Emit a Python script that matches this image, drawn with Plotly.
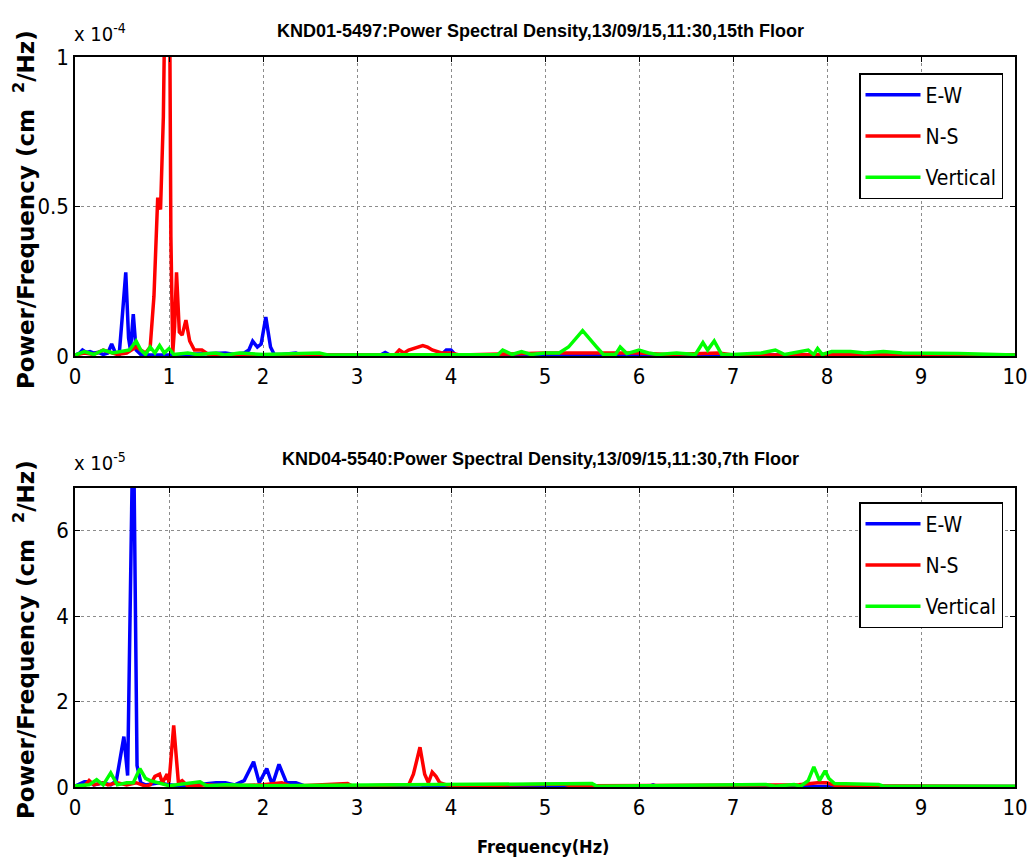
import plotly.graph_objects as go

# ---------------- data (top panel, values x 1e-4) ----------------
top_ew_f = [0, 0.05, 0.08, 0.12, 0.16, 0.2, 0.25, 0.3, 0.35, 0.39, 0.43, 0.47, 0.5, 0.54, 0.57, 0.59, 0.62, 0.65, 0.7,
            0.8, 1.0, 1.2, 1.5, 1.6, 1.7, 1.8, 1.85, 1.89, 1.94, 1.98, 2.03, 2.08, 2.12, 2.2, 2.35, 2.4, 2.5,
            3.25, 3.3, 3.35, 3.9, 3.95, 4.0, 4.05, 5.0, 10.0]
top_ew_v = [0.003, 0.01, 0.02, 0.012, 0.015, 0.01, 0.012, 0.005, 0.01, 0.04, 0.01, 0.005, 0.12, 0.28, 0.06, 0.02, 0.14, 0.02, 0.005,
            0.003, 0.003, 0.005, 0.01, 0.01, 0.005, 0.01, 0.02, 0.05, 0.03, 0.04, 0.13, 0.03, 0.005, 0.005, 0.01, 0.003, 0.003,
            0.003, 0.012, 0.003, 0.005, 0.02, 0.02, 0.003, 0.003, 0.003]

top_ns_f = [0, 0.1, 0.2, 0.3, 0.45, 0.55, 0.65, 0.75, 0.8, 0.84, 0.88, 0.91, 0.94, 0.97, 1.0, 1.02, 1.04, 1.06, 1.08,
            1.11, 1.14, 1.18, 1.22, 1.27, 1.35, 1.42, 1.5, 3.4, 3.45, 3.5, 3.55, 3.6, 3.65, 3.7, 3.75, 3.8, 3.9, 4.0, 4.1,
            5.0, 5.5, 6.0, 6.3, 6.7, 6.85, 7.0, 8.0, 10.0]
top_ns_v = [0.003, 0.01, 0.005, 0.02, 0.005, 0.01, 0.03, 0.01, 0.03, 0.2, 0.53, 0.49, 0.8, 1.5, 1.6, 0.4, 0.01, 0.1, 0.28,
            0.08, 0.07, 0.12, 0.05, 0.02, 0.02, 0.005, 0.003, 0.003, 0.02, 0.01, 0.02, 0.025, 0.03, 0.035, 0.03, 0.02, 0.01, 0.01, 0.003,
            0.01, 0.01, 0.01, 0.005, 0.01, 0.01, 0.003, 0.005, 0.003]

top_v_f = [0, 0.1, 0.2, 0.3, 0.4, 0.5, 0.58, 0.65, 0.7, 0.75, 0.8, 0.85, 0.9, 0.95, 1.0, 1.05, 1.2, 1.3, 1.5, 1.6, 1.75,
           2.0, 2.6, 2.7, 4.5, 4.55, 4.65, 4.75, 4.85, 5.0, 5.15, 5.25, 5.4, 5.55, 5.62, 5.75, 5.8, 5.87, 6.0, 6.1, 6.2,
           6.4, 6.6, 6.68, 6.73, 6.8, 6.88, 7.0, 7.3, 7.45, 7.55, 7.8, 7.86, 7.9, 7.95, 8.05, 8.25, 8.4, 8.6, 8.8,
           9.2, 9.4, 10.0]
top_v_v = [0.003, 0.015, 0.005, 0.02, 0.01, 0.015, 0.02, 0.05, 0.02, 0.005, 0.03, 0.01, 0.035, 0.01, 0.025, 0.005, 0.01, 0.005, 0.01, 0.003, 0.01,
           0.005, 0.01, 0.003, 0.005, 0.02, 0.005, 0.015, 0.005, 0.01, 0.01, 0.03, 0.085, 0.03, 0.005, 0.005, 0.03, 0.008, 0.02, 0.01, 0.005,
           0.01, 0.005, 0.045, 0.02, 0.05, 0.005, 0.005, 0.01, 0.02, 0.005, 0.02, 0.005, 0.025, 0.005, 0.015, 0.015, 0.01, 0.015, 0.01,
           0.01, 0.008, 0.003]

# ---------------- data (bottom panel, values x 1e-5) ----------------
bot_ew_f = [0, 0.1, 0.15, 0.2, 0.3, 0.38, 0.44, 0.52, 0.56, 0.58, 0.62, 0.66, 0.7, 0.75, 0.9, 1.0, 1.1, 1.3, 1.5, 1.6,
            1.7, 1.8, 1.9, 1.96, 2.04, 2.1, 2.17, 2.25, 2.35, 2.45, 3.0, 3.65, 3.8, 6.1, 6.15, 6.2, 10.0]
bot_ew_v = [0.02, 0.12, 0.12, 0.05, 0.1, 0.05, 0.15, 1.18, 0.27, 3.0, 9.0, 0.5, 0.1, 0.05, 0.1, 0.05, 0.03, 0.05, 0.1, 0.1,
            0.05, 0.15, 0.59, 0.1, 0.43, 0.05, 0.53, 0.1, 0.1, 0.02, 0.01, 0.05, 0.02, 0.01, 0.05, 0.01, 0.01]

bot_ns_f = [0, 0.1, 0.15, 0.2, 0.3, 0.35, 0.45, 0.55, 0.65, 0.75, 0.8, 0.85, 0.9, 0.93, 0.98, 1.0, 1.05, 1.1, 1.14,
            1.2, 1.4, 1.6, 2.0, 2.2, 2.3, 2.9, 2.95, 3.3, 3.45, 3.55, 3.6, 3.67, 3.72, 3.76, 3.8, 3.84, 3.88, 3.95,
            4.05, 5.2, 5.3, 5.5, 7.4, 7.7, 7.9, 8.0, 8.1, 8.6, 10.0]
bot_ns_v = [0.02, 0.02, 0.15, 0.05, 0.1, 0.05, 0.1, 0.05, 0.1, 0.02, 0.05, 0.25, 0.3, 0.1, 0.3, 0.1, 1.44, 0.1, 0.15,
            0.02, 0.05, 0.02, 0.05, 0.1, 0.02, 0.08, 0.02, 0.05, 0.05, 0.05, 0.3, 0.93, 0.3, 0.1, 0.35, 0.25, 0.1, 0.05,
            0.02, 0.07, 0.01, 0.03, 0.04, 0.05, 0.1, 0.1, 0.03, 0.03, 0.01]

bot_v_f = [0, 0.15, 0.23, 0.3, 0.38, 0.45, 0.55, 0.62, 0.69, 0.75, 0.8, 0.9, 1.0, 1.33, 1.4, 1.6, 1.8, 2.0, 5.5, 5.55,
           7.35, 7.45, 7.65, 7.72, 7.8, 7.86, 7.92, 7.98, 8.02, 8.08, 8.55, 8.6, 10.0]
bot_v_v = [0.03, 0.05, 0.17, 0.05, 0.33, 0.05, 0.1, 0.1, 0.43, 0.2, 0.15, 0.1, 0.03, 0.12, 0.03, 0.05, 0.03, 0.03, 0.08, 0.02,
           0.06, 0.02, 0.06, 0.02, 0.15, 0.47, 0.15, 0.38, 0.2, 0.08, 0.06, 0.02, 0.02]

series_names = ["E-W", "N-S", "Vertical"]
series_colors = ["#0000ff", "#ff0000", "#00ff00"]
x_ticks = [0, 1, 2, 3, 4, 5, 6, 7, 8, 9, 10]
top_yticks = [0, 0.5, 1]
top_yticktext = ["0", "0.5", "1"]
bot_yticks = [0, 2, 4, 6]
bot_yticktext = ["0", "2", "4", "6"]

top_title = "KND01-5497:Power Spectral Density,13/09/15,11:30,15th Floor"
bot_title = "KND04-5540:Power Spectral Density,13/09/15,11:30,7th Floor"

NARROW = "DejaVu Sans Condensed, Liberation Sans Narrow, Liberation Sans, sans-serif"
SANS = "Liberation Sans, Arial, sans-serif"
WIDE = "DejaVu Sans, sans-serif"

fig = go.Figure()
top_data = [(top_ew_f, top_ew_v), (top_ns_f, top_ns_v), (top_v_f, top_v_v)]
bot_data = [(bot_ew_f, bot_ew_v), (bot_ns_f, bot_ns_v), (bot_v_f, bot_v_v)]
for i, ((f, v), name, col) in enumerate(zip(top_data, series_names, series_colors)):
    fig.add_trace(go.Scatter(x=f, y=v, mode="lines", name=name, line=dict(color=col, width=3.5),
                             xaxis="x", yaxis="y", legend="legend", legendgroup="t%d" % i))
for i, ((f, v), name, col) in enumerate(zip(bot_data, series_names, series_colors)):
    fig.add_trace(go.Scatter(x=f, y=v, mode="lines", name=name, line=dict(color=col, width=3.5),
                             xaxis="x2", yaxis="y2", legend="legend2", legendgroup="b%d" % i))

xd = [75 / 1030, 1015 / 1030]
ax_common = dict(showline=True, linecolor="black", linewidth=1.5, mirror="allticks", ticks="inside", ticklen=5,
                 tickcolor="black", showgrid=True, gridcolor="#8c8c8c", griddash="dot", gridwidth=1,
                 zeroline=False, automargin=False, tickfont=dict(family=NARROW, size=22, color="black"))

leg_common = dict(xanchor="right", yanchor="top", bordercolor="black", borderwidth=1.5, bgcolor="white",
                  font=dict(family=NARROW, size=21, color="black"), itemwidth=55, tracegroupgap=11)
fig.update_layout(
    width=1030, height=864, margin=dict(l=0, r=0, t=0, b=0, autoexpand=False),
    paper_bgcolor="white", plot_bgcolor="white", showlegend=True,
    xaxis=dict(domain=xd, range=[0, 10], tickvals=x_ticks, anchor="y", **ax_common),
    yaxis=dict(domain=[1 - 356 / 864, 1 - 57 / 864], range=[0, 1], tickvals=top_yticks, ticktext=top_yticktext,
               anchor="x", **ax_common),
    xaxis2=dict(domain=xd, range=[0, 10], tickvals=x_ticks, anchor="y2", **ax_common),
    yaxis2=dict(domain=[1 - 787 / 864, 1 - 488 / 864], range=[0, 7], tickvals=bot_yticks, ticktext=bot_yticktext,
                anchor="x2", **ax_common),
    legend=dict(x=1003 / 1030, y=1 - 73 / 864, **leg_common),
    legend2=dict(x=1003 / 1030, y=1 - 502 / 864, **leg_common),
)

ann = []
ann.append(dict(text="<b>" + top_title + "</b>", x=540 / 1030, y=1 - 31 / 864, xref="paper", yref="paper",
                showarrow=False, font=dict(family=SANS, size=18, color="black"), xanchor="center", yanchor="middle"))
ann.append(dict(text="<b>" + bot_title + "</b>", x=540 / 1030, y=1 - 459 / 864, xref="paper", yref="paper",
                showarrow=False, font=dict(family=SANS, size=18, color="black"), xanchor="center", yanchor="middle"))
ann.append(dict(text="x 10<sup>-4</sup>", x=72 / 1030, y=1 - 33 / 864, xref="paper", yref="paper",
                showarrow=False, font=dict(family=NARROW, size=20, color="black"), xanchor="left", yanchor="middle"))
ann.append(dict(text="x 10<sup>-5</sup>", x=72 / 1030, y=1 - 462 / 864, xref="paper", yref="paper",
                showarrow=False, font=dict(family=NARROW, size=20, color="black"), xanchor="left", yanchor="middle"))
ylab = "<b>Power/Frequency (cm  <sup>2</sup>/Hz)</b>"
ann.append(dict(text=ylab, x=24 / 1030, y=1 - 210 / 864, xref="paper", yref="paper", textangle=-90,
                showarrow=False, font=dict(family=WIDE, size=23, color="black"), xanchor="center", yanchor="middle"))
ann.append(dict(text=ylab, x=24 / 1030, y=1 - 640 / 864, xref="paper", yref="paper", textangle=-90,
                showarrow=False, font=dict(family=WIDE, size=23, color="black"), xanchor="center", yanchor="middle"))
ann.append(dict(text="<b>Frequency(Hz)</b>", x=543 / 1030, y=1 - 846 / 864, xref="paper", yref="paper",
                showarrow=False, font=dict(family=NARROW, size=18, color="black"), xanchor="center", yanchor="middle"))
fig.update_layout(annotations=ann)

fig.write_html("out.html")
